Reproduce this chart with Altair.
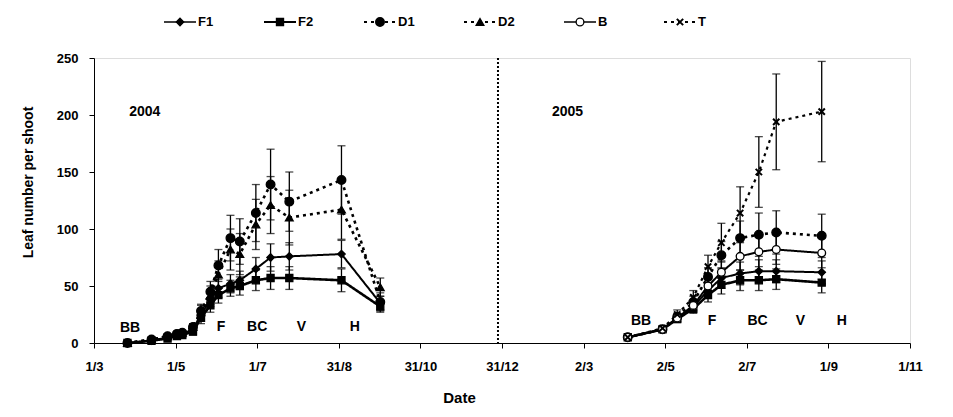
import altair as alt
import pandas as pd

# ---------------- data ----------------
series_names = ["F1", "F2", "D1", "D2", "B", "T"]

dates_2004 = ["2004-03-26", "2004-04-13", "2004-04-25", "2004-05-02", "2004-05-06",
              "2004-05-14", "2004-05-20", "2004-05-27", "2004-06-02", "2004-06-11",
              "2004-06-18", "2004-06-30", "2004-07-11", "2004-07-25", "2004-09-02",
              "2004-10-01"]
f1_2004 = [0, 2, 5, 7, 8, 12, 25, 38, 48, 52, 55, 65, 75, 76, 78, 35]
f2_2004 = [0, 2, 4, 6, 7, 10, 22, 33, 42, 48, 50, 55, 57, 57, 55, 32]
d1_2004 = [0, 3, 6, 8, 9, 14, 28, 45, 68, 92, 89, 114, 139, 124, 143, 36]
d2_2004 = [0, 3, 6, 8, 9, 14, 27, 42, 60, 82, 78, 104, 121, 110, 117, 49]
f1_2004_sd = [0, 1, 1, 2, 2, 3, 5, 6, 8, 8, 8, 10, 12, 12, 12, 6]
f2_2004_sd = [0, 1, 1, 2, 2, 3, 5, 6, 7, 7, 8, 9, 10, 10, 10, 5]
d1_2004_sd = [0, 1, 2, 2, 2, 3, 6, 9, 14, 20, 20, 25, 31, 26, 30, 8]
d2_2004_sd = [0, 1, 2, 2, 2, 3, 6, 8, 12, 18, 18, 22, 25, 24, 26, 8]

dates_2005 = ["2005-04-04", "2005-04-30", "2005-05-11", "2005-05-23", "2005-06-03",
              "2005-06-13", "2005-06-27", "2005-07-11", "2005-07-24", "2005-08-27"]
t_2005 = [5, 13, 25, 40, 67, 88, 114, 150, 194, 203]
d1_2005 = [5, 12, 23, 36, 58, 77, 92, 95, 97, 94]
b_2005 = [5, 12, 22, 33, 50, 62, 76, 80, 82, 79]
f1_2005 = [5, 12, 22, 32, 46, 57, 61, 63, 63, 62]
f2_2005 = [5, 12, 21, 30, 42, 51, 55, 55, 56, 53]
t_2005_sd = [1, 2, 4, 6, 10, 17, 23, 31, 42, 44]
d1_2005_sd = [1, 2, 3, 5, 8, 12, 15, 19, 19, 19]
b_2005_sd = [1, 2, 3, 4, 7, 10, 12, 13, 13, 13]
f1_2005_sd = [1, 2, 3, 4, 6, 9, 10, 10, 10, 10]
f2_2005_sd = [1, 2, 3, 4, 6, 8, 9, 9, 9, 9]

year_labels = ["2004", "2005"]
year_label_dates = ["2004-04-08", "2005-02-18"]
year_label_values = [203, 203]

stage_labels = ["BB", "F", "BC", "V", "H", "BB", "F", "BC", "V", "H"]
stage_dates = ["2004-03-28", "2004-06-04", "2004-07-01", "2004-08-03", "2004-09-12",
               "2005-04-14", "2005-06-06", "2005-07-10", "2005-08-11", "2005-09-11"]
stage_values = [13, 14, 14, 14, 14, 19, 19, 19, 19, 19]

divider_date = ["2004-12-28"]

tick_dates = [(2004, 3, 1), (2004, 5, 1), (2004, 7, 1), (2004, 8, 31), (2004, 10, 31),
              (2004, 12, 31), (2005, 3, 2), (2005, 5, 2), (2005, 7, 2), (2005, 9, 1),
              (2005, 11, 1)]

# ---------------- build tables ----------------
rows = []
def add(series, year, dates, vals, sds):
    for d, v, s in zip(dates, vals, sds):
        rows.append({"series": series, "year": year, "date": d + "T00:00",
                     "value": v, "lo": v - s, "hi": v + s})

add("F1", "2004", dates_2004, f1_2004, f1_2004_sd)
add("F2", "2004", dates_2004, f2_2004, f2_2004_sd)
add("D1", "2004", dates_2004, d1_2004, d1_2004_sd)
add("D2", "2004", dates_2004, d2_2004, d2_2004_sd)
add("T", "2005", dates_2005, t_2005, t_2005_sd)
add("D1", "2005", dates_2005, d1_2005, d1_2005_sd)
add("B", "2005", dates_2005, b_2005, b_2005_sd)
add("F1", "2005", dates_2005, f1_2005, f1_2005_sd)
add("F2", "2005", dates_2005, f2_2005, f2_2005_sd)
df = pd.DataFrame(rows)

FONT = "Liberation Sans"
YTITLE = "Leaf number per shoot"
x_scale = alt.Scale(domain=[alt.DateTime(year=2004, month=3, date=1),
                            alt.DateTime(year=2005, month=11, date=1)])
y_scale = alt.Scale(domain=[0, 250])

x_axis = alt.Axis(values=[alt.DateTime(year=a, month=b, date=c) for a, b, c in tick_dates],
                  format="%-d/%-m", title="Date", grid=False, domainColor="black",
                  tickColor="black", tickSize=5, labelPadding=12,
                  labelFontSize=13, labelFontWeight="bold", labelFont=FONT,
                  titleFontSize=15, titleFontWeight="bold", titleFont=FONT,
                  titlePadding=17, titleX=365, labelFlush=False)
y_axis = alt.Axis(values=[0, 50, 100, 150, 200, 250], title=YTITLE,
                  grid=False, domainColor="black", tickColor="black", tickSize=5,
                  labelPadding=11, labelFontSize=13, labelFontWeight="bold",
                  labelFont=FONT, titleFontSize=14, titleFontWeight="bold",
                  titleFont=FONT, titlePadding=21, titleY=124)

X = alt.X("date:T", scale=x_scale, axis=x_axis)
Y = alt.Y("value:Q", scale=y_scale, axis=y_axis, title=YTITLE)
Xn = alt.X("date:T", scale=x_scale)
Yn = alt.Y("value:Q", scale=y_scale, title=YTITLE)

X_PATH = "M-1,-1L1,1M-1,1L1,-1"
styles = {
    "F1": dict(shape="diamond", fill="black", dash=[1, 0], lw=2.0, size=55),
    "F2": dict(shape="square", fill="black", dash=[1, 0], lw=2.6, size=50),
    "D1": dict(shape="circle", fill="black", dash=[3, 4], lw=2.6, size=75),
    "D2": dict(shape="triangle-up", fill="black", dash=[3, 4], lw=2.6, size=60),
    "B": dict(shape="circle", fill="white", dash=[1, 0], lw=2.0, size=60),
    "T": dict(shape=X_PATH, fill=None, dash=[3, 4], lw=2.2, size=40),
}

def point_mark(chart, st):
    if st["fill"] is None:
        return chart.mark_point(shape=st["shape"], filled=False, stroke="black",
                                strokeWidth=2, size=st["size"], opacity=1)
    return chart.mark_point(shape=st["shape"], filled=True, fill=st["fill"], stroke="black",
                            strokeWidth=1.3, size=st["size"], opacity=1)

base = alt.Chart(df)
layers = []
for s in series_names:
    st = styles[s]
    sub = base.transform_filter(alt.datum.series == s)
    layers.append(sub.mark_line(color="black", strokeWidth=st["lw"], strokeDash=st["dash"])
                  .encode(x=X, y=Y, detail="year:N"))
for s in series_names:
    sub = base.transform_filter(alt.datum.series == s)
    layers.append(sub.mark_errorbar(ticks=True, size=8, thickness=1.3, color="black")
                  .encode(x=Xn, y=alt.Y("lo:Q", scale=y_scale, title=YTITLE), y2="hi:Q"))
for s in series_names:
    st = styles[s]
    sub = base.transform_filter(alt.datum.series == s)
    layers.append(point_mark(sub, st).encode(x=Xn, y=Yn))

# divider
div_df = pd.DataFrame({"date": [d + "T00:00" for d in divider_date]})
divider = alt.Chart(div_df).mark_rule(color="black", strokeWidth=2, strokeDash=[2, 2]).encode(x=Xn)

# annotations
yr_df = pd.DataFrame({"label": year_labels, "date": [d + "T00:00" for d in year_label_dates],
                      "value": year_label_values})
yr_text = alt.Chart(yr_df).mark_text(font=FONT, fontSize=14, fontWeight="bold",
                                      color="black").encode(x=Xn, y=Yn, text="label:N")
st_df = pd.DataFrame({"label": stage_labels, "date": [d + "T00:00" for d in stage_dates],
                      "value": stage_values})
st_text = alt.Chart(st_df).mark_text(font=FONT, fontSize=14, fontWeight="bold",
                                      color="black").encode(x=Xn, y=Yn, text="label:N")

main = alt.layer(*layers, divider, yr_text, st_text)

# ---------------- custom legend row (own slot scale) ----------------
leg_df = pd.DataFrame({"series": series_names, "slot": list(range(len(series_names)))})
slot_scale = alt.Scale(domain=[-0.86, 7.30], nice=False, zero=False)
LEG_Y = alt.value(-36)
leg_layers = []
for s in series_names:
    st = styles[s]
    sub = alt.Chart(leg_df).transform_filter(alt.datum.series == s).transform_calculate(
        a="datum.slot - 0.16", b="datum.slot + 0.16")
    leg_layers.append(sub.mark_rule(color="black", strokeWidth=st["lw"] - 0.4,
                                    strokeDash=st["dash"]).encode(
        x=alt.X("a:Q", scale=slot_scale, axis=None), x2="b:Q", y=LEG_Y))
    leg_layers.append(point_mark(sub, st).encode(
        x=alt.X("slot:Q", scale=slot_scale, axis=None), y=LEG_Y))
leg_layers.append(alt.Chart(leg_df).mark_text(align="left", dx=18, font=FONT, fontSize=13,
                                              fontWeight="bold", color="black").encode(
    x=alt.X("slot:Q", scale=slot_scale, axis=None), y=LEG_Y, text="series:N"))
legend = alt.layer(*leg_layers)

chart = alt.layer(main, legend).resolve_scale(x="independent").properties(
    width=816, height=285,
    autosize=alt.AutoSizeParams(type="none"),
    padding={"left": 86, "top": 50, "right": 35, "bottom": 66},
).configure_view(stroke="black", strokeWidth=1).configure(font=FONT, background="white")

chart.save("out.html", embed_options={"renderer": "svg", "actions": False})
